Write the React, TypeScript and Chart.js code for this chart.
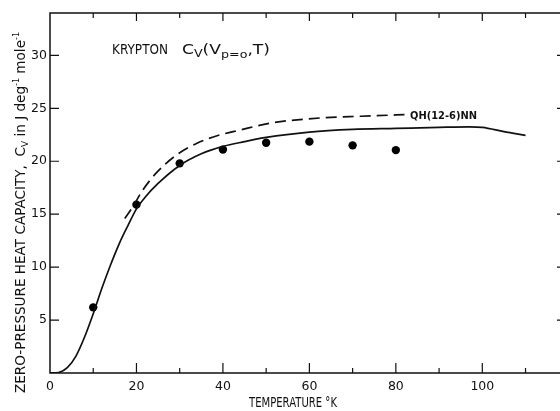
import React, { useEffect, useRef } from "react";
import { Chart, registerables } from "chart.js";

Chart.register(...registerables);

// Theory curve (solid)
const solidT = [0, 2, 4, 6, 8, 10, 12, 14, 16, 18, 20, 22, 25, 30, 35, 40, 45, 50, 60, 70, 80, 90, 97, 100, 105, 110];
const solidCv = [0, 0.05, 0.5, 1.6, 3.4, 5.6, 8.0, 10.2, 12.2, 13.9, 15.5, 16.6, 17.9, 19.6, 20.7, 21.4, 21.85, 22.25, 22.75, 23.0, 23.1, 23.2, 23.25, 23.2, 22.8, 22.45];
// QH(12-6)NN (dashed)
const dashedT = [17.3, 19, 21.5, 24.6, 29.3, 34, 39, 44, 51, 63, 72, 82];
const dashedCv = [14.6, 15.6, 17.3, 18.9, 20.6, 21.7, 22.45, 22.95, 23.6, 24.1, 24.25, 24.4];
// Experimental points
const pointT = [10, 20, 30, 40, 50, 60, 70, 80];
const pointCv = [6.2, 15.9, 19.8, 21.1, 21.75, 21.85, 21.5, 21.05];

const xTickLabels = [0, 20, 40, 60, 80, 100];
const xMinorTicks = [10, 30, 50, 70, 90, 110];
const yTickLabels = [5, 10, 15, 20, 25, 30];
const X_MAX = 117;
const Y_MAX = 34;

type Seg = { t: string; dy?: number; size?: number };

function drawSegs(ctx: CanvasRenderingContext2D, segs: Seg[], base: number, family: string, weight: string, targetWidth: number) {
  let total = 0;
  for (const s of segs) {
    ctx.font = `${weight} ${s.size ?? base}px ${family}`;
    total += ctx.measureText(s.t).width;
  }
  const k = targetWidth / total;
  ctx.save();
  ctx.scale(k, 1);
  let x = 0;
  for (const s of segs) {
    ctx.font = `${weight} ${s.size ?? base}px ${family}`;
    ctx.fillText(s.t, x, s.dy ?? 0);
    x += ctx.measureText(s.t).width;
  }
  ctx.restore();
}

const decorPlugin = {
  id: "decor",
  afterDatasetsDraw(chart: any) {
    const ctx: CanvasRenderingContext2D = chart.ctx;
    const xs = chart.scales.x;
    const ys = chart.scales.y;
    const { left, top, bottom } = chart.chartArea;
    ctx.save();
    ctx.strokeStyle = "#111";
    ctx.fillStyle = "#111";
    ctx.lineWidth = 1.5;
    // frame
    ctx.beginPath();
    ctx.moveTo(chart.width, top);
    ctx.lineTo(left, top);
    ctx.lineTo(left, bottom);
    ctx.lineTo(chart.width, bottom);
    ctx.stroke();
    ctx.lineWidth = 1.2;
    // ticks
    ctx.beginPath();
    for (const v of xTickLabels) {
      if (v === 0) continue;
      const px = xs.getPixelForValue(v);
      ctx.moveTo(px, bottom);
      ctx.lineTo(px, bottom - 10);
      ctx.moveTo(px, top);
      ctx.lineTo(px, top + 8);
    }
    for (const v of xMinorTicks) {
      const px = xs.getPixelForValue(v);
      ctx.moveTo(px, bottom);
      ctx.lineTo(px, bottom - 5);
      ctx.moveTo(px, top);
      ctx.lineTo(px, top + 5);
    }
    for (const v of yTickLabels) {
      const py = ys.getPixelForValue(v);
      ctx.moveTo(left, py);
      ctx.lineTo(left + 9, py);
      ctx.moveTo(chart.width, py);
      ctx.lineTo(chart.width - 3, py);
    }
    ctx.stroke();

    ctx.textBaseline = "alphabetic";
    const fam = "'DejaVu Sans', sans-serif";
    // title
    ctx.save();
    ctx.translate(112, 54);
    drawSegs(ctx, [{ t: "KRYPTON" }], 13.5, fam, "normal", 56);
    ctx.restore();
    ctx.save();
    ctx.translate(182, 54);
    drawSegs(ctx, [
      { t: "C" },
      { t: "V", dy: 3, size: 10 },
      { t: "(V" },
      { t: "p=o", dy: 4, size: 10 },
      { t: ",T)" },
    ], 13.5, fam, "normal", 88);
    ctx.restore();

    // dashed curve label
    ctx.save();
    ctx.translate(410, 119);
    drawSegs(ctx, [{ t: "QH(12-6)NN" }], 10, fam, "bold", 67);
    ctx.restore();

    // x title
    ctx.save();
    ctx.translate(249, 407);
    drawSegs(ctx, [{ t: "TEMPERATURE °K" }], 13.5, fam, "normal", 88);
    ctx.restore();

    // y title
    ctx.save();
    ctx.translate(25, 393);
    ctx.rotate(-Math.PI / 2);
    drawSegs(ctx, [
      { t: "ZERO-PRESSURE HEAT CAPACITY,  C" },
      { t: "V", dy: 3, size: 9 },
      { t: " in J deg" },
      { t: "-1", dy: -6, size: 8 },
      { t: " mole" },
      { t: "-1", dy: -6, size: 8 },
    ], 13.5, fam, "normal", 361);
    ctx.restore();

    ctx.restore();
  },
};

export default function App() {
  const ref = useRef<HTMLCanvasElement | null>(null);
  useEffect(() => {
    if (!ref.current) return;
    const chart = new Chart(ref.current, {
      type: "scatter",
      data: {
        datasets: [
          {
            label: "theory",
            data: solidT.map((t, i) => ({ x: t, y: solidCv[i] })),
            showLine: true,
            borderColor: "#111",
            borderWidth: 1.7,
            pointRadius: 0,
            cubicInterpolationMode: "monotone",
          },
          {
            label: "QH(12-6)NN",
            data: dashedT.map((t, i) => ({ x: t, y: dashedCv[i] })),
            showLine: true,
            borderColor: "#111",
            borderWidth: 1.7,
            borderDash: [11, 6],
            pointRadius: 0,
            cubicInterpolationMode: "monotone",
          },
          {
            label: "experiment",
            data: pointT.map((t, i) => ({ x: t, y: pointCv[i] })),
            showLine: false,
            pointRadius: 4.2,
            pointBackgroundColor: "#000",
            pointBorderColor: "#000",
            pointBorderWidth: 0,
          },
        ],
      } as any,
      options: {
        animation: false,
        responsive: false,
        maintainAspectRatio: false,
        layout: { padding: { top: 13, right: 0, left: 0, bottom: 0 } },
        plugins: { legend: { display: false }, tooltip: { enabled: false } },
        scales: {
          x: {
            type: "linear",
            min: 0,
            max: X_MAX,
            border: { display: false },
            grid: { display: false, drawTicks: false },
            afterBuildTicks: (s: any) => { s.ticks = xTickLabels.map((v) => ({ value: v })); },
            afterFit: (s: any) => { s.height = 38; },
            ticks: {
              autoSkip: false,
              maxRotation: 0,
              padding: 6,
              color: "#111",
              font: { family: "'DejaVu Sans', sans-serif", size: 12.5 },
            },
          },
          y: {
            type: "linear",
            min: 0,
            max: Y_MAX,
            border: { display: false },
            grid: { display: false, drawTicks: false },
            afterBuildTicks: (s: any) => { s.ticks = yTickLabels.map((v) => ({ value: v })); },
            afterFit: (s: any) => { s.width = 50; },
            ticks: {
              autoSkip: false,
              padding: 3,
              color: "#111",
              font: { family: "'DejaVu Sans', sans-serif", size: 12.5 },
            },
          },
        },
      } as any,
      plugins: [decorPlugin],
    });
    return () => chart.destroy();
  }, []);
  return (
    <div style={{ position: "absolute", left: 0, top: 0, width: 560, height: 411, background: "#fff" }}>
      <canvas ref={ref} width={560} height={411} style={{ display: "block" }} />
    </div>
  );
}
